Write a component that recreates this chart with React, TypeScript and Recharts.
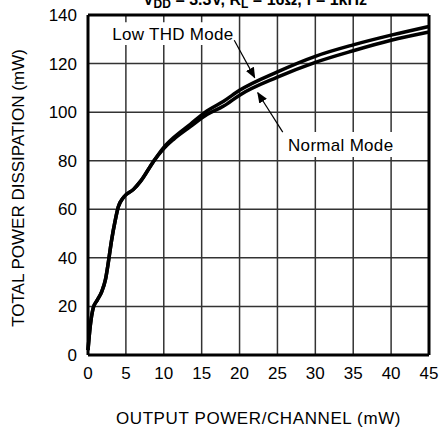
import { LineChart, Line, XAxis, YAxis, CartesianGrid, ReferenceLine, ReferenceArea } from 'recharts'

const FONT = '"Liberation Sans", Arial, sans-serif'

// output power per channel (mW)
const outputPower = [0, 0.3, 0.7, 1.2, 1.8, 2.3, 2.7, 3.1, 3.6, 4, 4.7, 6, 7, 8.6, 10, 11.3, 13.5, 15.7, 17.9, 20, 25, 30, 35, 40, 45]
// total power dissipation (mW)
const lowThd = [2, 12, 19.5, 22.5, 26, 31, 38.5, 47, 55.5, 61, 65, 68.2, 71.8, 79.5, 85.5, 89.5, 95, 100.5, 104.5, 109, 116.6, 123, 127.7, 131.7, 135.3]
const normal = [2, 12, 19.5, 22.5, 26, 31, 38.5, 47, 55.5, 61, 65, 68.2, 71.8, 79.5, 85, 88.8, 94, 99, 102.5, 107, 114.4, 120.5, 125.3, 129.6, 133]

const xTicks = [0, 5, 10, 15, 20, 25, 30, 35, 40, 45]
const yTicks = [0, 20, 40, 60, 80, 100, 120, 140]

const data = outputPower.map((p, i) => ({ p, lowThd: lowThd[i], normal: normal[i] }))

const tick = { fontSize: 17, fontFamily: FONT, fill: '#000' }
const noteStyle = { fontSize: 17, fontFamily: FONT, fill: '#000', letterSpacing: 0.3 }

export default function App() {
  return (
    <div style={{ position: 'absolute', left: 0, top: 0, width: 443, height: 427, background: '#fff' }}>
      <LineChart width={443} height={427} data={data} margin={{ top: 15, right: 14, left: 0, bottom: 0 }}>
        <defs>
          <marker id="arrow" markerWidth={11} markerHeight={9} refX={10} refY={4.5} orient="auto" markerUnits="userSpaceOnUse">
            <path d="M0,0 L11,4.5 L0,9 z" fill="#000" />
          </marker>
        </defs>
        <text x={255} y={5} textAnchor="middle" fontFamily={FONT} fontSize={16} fontWeight="bold" fill="#000">
          V<tspan fontSize={12} dy={3}>DD</tspan><tspan dy={-3}> = 3.3V, R</tspan>
          <tspan fontSize={12} dy={3}>L</tspan><tspan dy={-3}> = 16Ω, f = 1kHz</tspan>
        </text>
        <text x={18} y={188} transform="rotate(-90 18 188)" textAnchor="middle" dominantBaseline="central"
          fontFamily={FONT} fontSize={17} fill="#000">
          TOTAL POWER DISSIPATION (mW)
        </text>
        <CartesianGrid stroke="#333" strokeWidth={1.5} />
        <XAxis
          dataKey="p" type="number" domain={[0, 45]} ticks={xTicks}
          tick={tick} tickLine={false} axisLine={false} tickMargin={6} height={72}
          label={{ value: 'OUTPUT POWER/CHANNEL (mW)', position: 'insideBottom', offset: 3, style: { fontSize: 17, fontFamily: FONT, fill: '#000', letterSpacing: 0.6 } }}
        />
        <YAxis
          type="number" domain={[0, 140]} ticks={yTicks}
          tick={tick} tickLine={false} axisLine={false} tickMargin={5} width={88}
        />
        <ReferenceArea x1={2.9} x2={19.5} y1={127.6} y2={137} fill="#fff" fillOpacity={1} stroke="none"
          label={{ value: 'Low THD Mode', position: 'center', style: noteStyle }} />
        <ReferenceArea x1={26} x2={40.7} y1={81.5} y2={91.8} fill="#fff" fillOpacity={1} stroke="none"
          label={{ value: 'Normal Mode', position: 'center', style: noteStyle }} />
        <ReferenceLine segment={[{ x: 19.3, y: 129.6 }, { x: 22.0, y: 114.2 }]} stroke="#000" strokeWidth={1.2} markerEnd="url(#arrow)" />
        <ReferenceLine segment={[{ x: 25.7, y: 91.8 }, { x: 22.4, y: 108.0 }]} stroke="#000" strokeWidth={1.2} markerEnd="url(#arrow)" />
        <Line dataKey="lowThd" type="monotone" stroke="#000" strokeWidth={3.5} dot={false} isAnimationActive={false} />
        <Line dataKey="normal" type="monotone" stroke="#000" strokeWidth={3.5} dot={false} isAnimationActive={false} />
        <ReferenceLine x={0} stroke="#000" strokeWidth={3} />
        <ReferenceLine x={45} stroke="#000" strokeWidth={3} />
        <ReferenceLine y={0} stroke="#000" strokeWidth={3} />
        <ReferenceLine y={140} stroke="#000" strokeWidth={3} />
      </LineChart>
    </div>
  )
}
